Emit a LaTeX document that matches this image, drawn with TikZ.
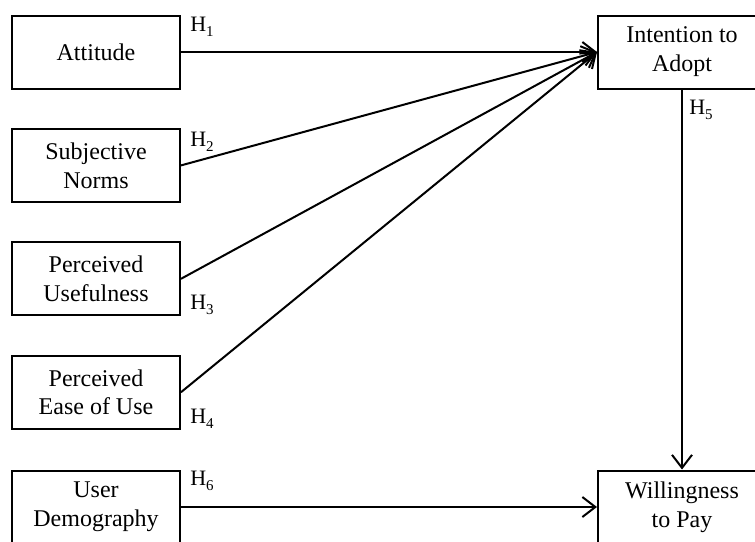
\documentclass[tikz,border=0pt]{standalone}
\usepackage{fontspec}
\setmainfont{Liberation Serif}
\usetikzlibrary{arrows.meta}
\newcommand{\hyp}[1]{H\raisebox{-0.55ex}{\fontsize{7.5}{8}\selectfont #1}}

\begin{document}
\begin{tikzpicture}[x=0.5pt, y=-0.5pt, line width=1pt,
    box/.style={draw, rectangle, minimum width=84pt, minimum height=36.5pt, inner sep=0pt, align=center, font=\fontsize{12}{14.4}\selectfont},
    hlabel/.style={inner sep=0pt, font=\fontsize{11}{12}\selectfont},
    link/.style={-{Straight Barb[length=6.5pt, width=10pt]}}]
    \path[use as bounding box, clip] (0,0) rectangle (755,541);

    \node[box] (att) at (96,52) {Attitude};
    \node[box] (subj) at (96,165.4) {Subjective\\Norms};
    \node[box] (usef) at (96,278.8) {Perceived\\Usefulness};
    \node[box] (ease) at (96,392.2) {Perceived\\Ease of Use};
    \node[box] (demo) at (96,507) {User\\Demography};
    \node[box] (intent) at (682,52) {Intention to\\Adopt};
    \node[box] (will) at (682,507) {Willingness\\to Pay};

    \node[hlabel] (h1) at (202,27) {\hyp{1}};
    \node[hlabel] (h2) at (202,142) {\hyp{2}};
    \node[hlabel] (h3) at (202,305) {\hyp{3}};
    \node[hlabel] (h4) at (202,419) {\hyp{4}};
    \node[hlabel] (h5) at (701,110) {\hyp{5}};
    \node[hlabel] (h6) at (202,481) {\hyp{6}};

    \draw[link] (att) -- (intent.west);
    \draw[link] (subj.east) -- (intent.west);
    \draw[link] (usef.east) -- (intent.west);
    \draw[link] (ease.east) -- (intent.west);
    \draw[link] (intent) -- (will);
    \draw[link] (demo) -- (will);
\end{tikzpicture}
\end{document}
